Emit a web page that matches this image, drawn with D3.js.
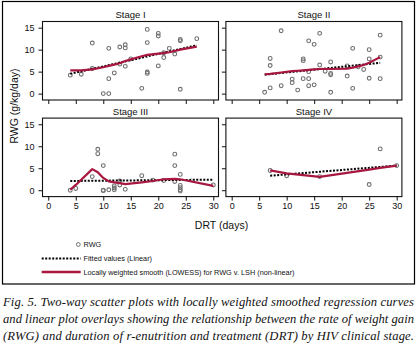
<!DOCTYPE html>
<html>
<head>
<meta charset="utf-8">
<script src="https://cdnjs.cloudflare.com/ajax/libs/d3/7.8.5/d3.min.js"></script>
<style>
body { margin: 0; background: #fff; }
svg { display: block; }
</style>
</head>
<body>
<script>
//Panel names and ticks
var stageNames = ["Stage I", "Stage II", "Stage III", "Stage IV"];
var xTicks = [0, 5, 10, 15, 20, 25, 30];
var yTicks = [0, 5, 10, 15];

//Scatter points (DRT in days, RWG in g/kg/day)
var drt1 = [4, 6, 8, 8, 10, 11, 11, 11, 12, 13, 13, 14, 14, 14, 15, 17, 18, 18, 18, 18, 20, 20, 20, 21, 21, 22, 23, 24, 24, 24, 27];
var rwg1 = [4.2, 4.4, 11.5, 5.7, 0, 0, 10.3, 3.4, 4.7, 10.6, 6.7, 11.1, 10.4, 6.2, 7.9, 1.2, 14.6, 11.6, 4.9, 4.6, 13.7, 13.1, 6.3, 9.3, 8.2, 10.3, 9.0, 12.3, 12.0, 1.0, 12.5];

var drt2 = [6, 7, 7, 7, 9, 9, 11, 11, 12, 13, 13, 13, 14, 14, 14, 14, 15, 15, 16, 16, 17, 18, 18, 18, 18, 21, 21, 22, 22, 23, 24, 25, 25, 25, 27, 27, 27];
var rwg2 = [0.3, 1.3, 6.4, 8.0, 14.3, 1.8, 3.3, 2.5, 0.8, 7.9, 7.5, 3.4, 12.0, 5.0, 3.4, 1.8, 11.2, 2.0, 13.7, 6.5, 5.1, 7.2, 4.6, 4.3, 0.3, 6.3, 4.0, 10.3, 1.2, 6.1, 5.5, 10.0, 7.9, 3.5, 13.3, 8.3, 3.4];

var drt3 = [4, 5, 8, 9, 9, 10, 10, 10, 11, 12, 12, 12, 13, 13, 14, 17, 19, 21, 23, 23, 23, 24, 24, 24, 24, 24, 30];
var rwg3 = [0, 0.4, 3.1, 9.3, 8.3, 5.6, 0, -0.1, 0.1, 1.0, 0.5, 0.1, 2.1, 1.2, 0.2, 3.3, 2.3, 2.2, 8.2, 5.6, 2.0, 3.6, 1.1, 0.6, 0.1, -0.2, 1.2];

var drt4 = [7, 10, 16, 25, 27, 30];
var rwg4 = [4.5, 3.3, 3.1, 1.3, 9.4, 5.6];

//Linear fitted values (ends of the line)
var fitX1 = [4, 27], fitY1 = [4.5, 11.0];
var fitX2 = [6, 27], fitY2 = [4.3, 7.0];
var fitX3 = [4, 30], fitY3 = [2.1, 2.4];
var fitX4 = [7, 30], fitY4 = [3.3, 5.6];

//LOWESS curves
var lowX1 = [4, 6, 8, 10, 11, 12, 13, 14, 15, 17, 18, 20, 21, 22, 23, 24, 27];
var lowY1 = [5.3, 5.3, 5.5, 6.0, 6.3, 6.6, 6.9, 7.4, 7.8, 8.5, 8.8, 9.1, 9.2, 9.4, 9.7, 10.0, 10.7];
var lowX2 = [6, 7, 9, 11, 12, 13, 14, 15, 16, 17, 18, 21, 22, 23, 24, 25, 27];
var lowY2 = [4.4, 4.5, 4.8, 5.1, 5.2, 5.3, 5.4, 5.5, 5.6, 5.6, 5.6, 5.7, 5.9, 6.2, 6.5, 7.0, 8.3];
var lowX3 = [4, 5, 8, 9, 10, 11, 12, 13, 14, 17, 19, 21, 23, 24, 30];
var lowY3 = [0.1, 1.2, 4.8, 4.1, 2.8, 2.0, 1.8, 1.6, 1.4, 1.8, 2.1, 2.5, 2.6, 2.5, 1.0];
var lowX4 = [7, 10, 16, 25, 27, 30];
var lowY4 = [4.5, 3.85, 3.05, 4.7, 5.1, 5.6];

var captionLines = [
  "Fig. 5. Two-way scatter plots with locally weighted smoothed regression curves",
  "and linear plot overlays showing the relationship between the rate of weight gain",
  "(RWG) and duration of r-enutrition and treatment (DRT) by HIV clinical stage."
];

//Build one record per panel
function zipXY(xs, ys) {
  return xs.map(function (d, i) { return {x: d, y: ys[i]}; });
}
var stages = [
  {name: stageNames[0], pts: zipXY(drt1, rwg1), fit: zipXY(fitX1, fitY1), low: zipXY(lowX1, lowY1)},
  {name: stageNames[1], pts: zipXY(drt2, rwg2), fit: zipXY(fitX2, fitY2), low: zipXY(lowX2, lowY2)},
  {name: stageNames[2], pts: zipXY(drt3, rwg3), fit: zipXY(fitX3, fitY3), low: zipXY(lowX3, lowY3)},
  {name: stageNames[3], pts: zipXY(drt4, rwg4), fit: zipXY(fitX4, fitY4), low: zipXY(lowX4, lowY4)}
];

var red = "#a8173f";
var font = "'Liberation Sans', Arial, sans-serif";

//Panel geometry
var pw = 176, ph = 78.5;
var lefts = [42.5, 225.9];
var tops = [21.5, 118.1];

var xScale = d3.scaleLinear().domain([-1.05, 30.95]).range([0, pw]);
var yScale = d3.scaleLinear().domain([-1.45, 16.4]).range([ph, 0]);

var svg = d3.select("body").append("svg")
  .attr("width", 418)
  .attr("height", 349);

svg.append("rect")
  .attr("width", 418).attr("height", 349)
  .attr("fill", "#fff");

//Outer frame
svg.append("rect")
  .attr("x", 2.5).attr("y", 1.5)
  .attr("width", 412).attr("height", 282.5)
  .attr("fill", "none")
  .attr("stroke", "#000")
  .attr("stroke-width", 1.2);

var line = d3.line()
  .x(function (d) { return xScale(d.x); })
  .y(function (d) { return yScale(d.y); });

stages.forEach(function (s, i) {
  var col = i % 2, row = Math.floor(i / 2);
  var g = svg.append("g")
    .attr("transform", "translate(" + lefts[col] + "," + tops[row] + ")");

  //Title
  g.append("text")
    .attr("x", pw / 2)
    .attr("y", -3.2)
    .attr("text-anchor", "middle")
    .attr("font-family", font)
    .attr("font-size", "9.5px")
    .attr("fill", "#111")
    .text(s.name);

  //Axes
  var yAxis = d3.axisLeft(yScale).tickValues(yTicks).tickSize(4).tickPadding(4);
  if (col == 1) yAxis.tickFormat("");
  var ya = g.append("g").call(yAxis);

  var xAxis = d3.axisBottom(xScale).tickValues(xTicks).tickSize(4).tickPadding(2);
  if (row == 0) xAxis.tickFormat("");
  var xa = g.append("g").attr("transform", "translate(0," + ph + ")").call(xAxis);

  [ya, xa].forEach(function (a) {
    a.select(".domain").remove();
    a.selectAll("line").attr("stroke", "#111").attr("stroke-width", 1);
    a.selectAll("text")
      .attr("font-family", font)
      .attr("font-size", "9px")
      .attr("fill", "#111");
  });

  //Box
  g.append("rect")
    .attr("width", pw).attr("height", ph)
    .attr("fill", "none")
    .attr("stroke", "#111")
    .attr("stroke-width", 1.1);

  //Scatter
  g.selectAll("circle")
    .data(s.pts)
    .enter()
    .append("circle")
    .attr("cx", function (d) { return xScale(d.x); })
    .attr("cy", function (d) { return yScale(d.y); })
    .attr("r", 1.9)
    .attr("fill", "none")
    .attr("stroke", "#707070")
    .attr("stroke-width", 1.1);

  //Linear fit
  g.append("path")
    .datum(s.fit)
    .attr("d", line)
    .attr("fill", "none")
    .attr("stroke", "#000")
    .attr("stroke-width", 2)
    .attr("stroke-dasharray", "2,1.5");

  //LOWESS
  g.append("path")
    .datum(s.low)
    .attr("d", line)
    .attr("fill", "none")
    .attr("stroke", red)
    .attr("stroke-width", 2.2)
    .attr("stroke-linejoin", "round");
});

//Axis titles
svg.append("text")
  .attr("transform", "translate(18,106) rotate(-90)")
  .attr("text-anchor", "middle")
  .attr("font-family", font)
  .attr("font-size", "10.5px")
  .attr("fill", "#111")
  .text("RWG (g/kg/day)");

svg.append("text")
  .attr("x", 221.5)
  .attr("y", 229)
  .attr("text-anchor", "middle")
  .attr("font-family", font)
  .attr("font-size", "10.5px")
  .attr("fill", "#111")
  .text("DRT (days)");

//Legend
var legendY = [244.5, 258.5, 272];
var lg = svg.append("g");
lg.append("circle")
  .attr("cx", 78.3).attr("cy", legendY[0])
  .attr("r", 1.9)
  .attr("fill", "none")
  .attr("stroke", "#707070");
lg.append("line")
  .attr("x1", 41.7).attr("x2", 80.7)
  .attr("y1", legendY[1]).attr("y2", legendY[1])
  .attr("stroke", "#000")
  .attr("stroke-width", 2)
  .attr("stroke-dasharray", "2,1.5");
lg.append("line")
  .attr("x1", 41.7).attr("x2", 80.7)
  .attr("y1", legendY[2]).attr("y2", legendY[2])
  .attr("stroke", red)
  .attr("stroke-width", 2.3);

var legendLabels = ["RWG", "Fitted values (Linear)", "Locally weighted smooth (LOWESS) for RWG v. LSH (non-linear)"];
lg.selectAll("text")
  .data(legendLabels)
  .enter()
  .append("text")
  .attr("x", 83.5)
  .attr("y", function (d, i) { return legendY[i] + 2.6; })
  .attr("font-family", font)
  .attr("font-size", "7.3px")
  .attr("fill", "#111")
  .text(function (d) { return d; });

//Caption
svg.selectAll(".cap")
  .data(captionLines)
  .enter()
  .append("text")
  .attr("class", "cap")
  .attr("x", 3)
  .attr("y", function (d, i) { return 305.5 + i * 17.3; })
  .attr("textLength", 411)
  .attr("lengthAdjust", "spacing")
  .attr("font-family", "'Liberation Serif', 'Times New Roman', serif")
  .attr("font-style", "italic")
  .attr("font-size", "12.6px")
  .attr("fill", "#111")
  .text(function (d) { return d; });
</script>
</body>
</html>
